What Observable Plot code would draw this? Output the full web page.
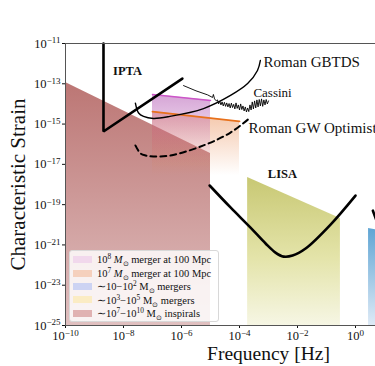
<!DOCTYPE html>
<html><head><meta charset="utf-8">
<script src="https://cdn.jsdelivr.net/npm/d3@7"></script>
<script src="https://cdn.jsdelivr.net/npm/@observablehq/plot@0.6"></script>
<style>
html,body{margin:0;padding:0;background:#fff;overflow:hidden;width:375px;height:366px}
#wrap{position:relative;width:375px;height:366px;overflow:hidden}
#wrap svg{max-width:none !important;width:480px;height:366px;display:block}
#legend{position:absolute;left:69px;top:250px;width:150px;height:72px;box-sizing:border-box;background:rgba(255,255,255,0.82);border:1px solid #d8d8d8;border-radius:3px;font-family:"Liberation Serif",serif;font-size:10.5px;padding:2px 0 0 3px;color:#111}
.row{display:flex;align-items:center;height:13.4px;white-space:nowrap}
.sw{width:19px;height:7px;margin-right:5px;flex:none}
sup,sub{font-size:0.7em;line-height:0}
</style></head><body><div id="wrap"></div>
<script>
// ---- data (log10 values) ----
const xTicks = [-10, -8, -6, -4, -2, 0];
const yTicks = [-25, -23, -21, -19, -17, -15, -13, -11];

const brownF = [-10, -5],        brownH = [-12.94, -16.46];
const pinkF = [-7, -5],          pinkH = [-13.53, -13.83];
const orangeF = [-7, -4],        orangeH = [-14.38, -14.87];
const lisaBandF = [-3.72, -0.52], lisaBandH = [-17.65, -19.69];
const ligoBandF = [0.45, 4],     ligoBandH = [-20.19, -21.0];
const bandFloor = -25;

const iptaF = [-8.69, -8.69, -5.97];
const iptaH = [-11, -15.37, -12.74];

const gbtdsF = [-7.59, -7.48, -7.31, -6.97, -6.4, -5.24, -4.31, -3.72, -3.38, -3.28];
const gbtdsH = [-13.96, -14.45, -14.62, -14.72, -14.62, -14.23, -13.58, -12.99, -12.34, -11.84];

const romanGWF = [-7.59, -7.41, -7.24, -6.97, -6.38, -5.24, -4.31, -3.62];
const romanGWH = [-16.06, -16.46, -16.56, -16.61, -16.56, -16.06, -15.42, -14.67];

const cassiniF = [-5.93, -5.5, -5.1, -4.93, -4.90, -4.86, -4.80, -4.76, -4.72, -4.68, -4.64, -4.60, -4.56, -4.52, -4.48, -4.44,
  -4.40, -4.36, -4.32, -4.28, -4.24, -4.20, -4.16, -4.12, -4.08, -4.04, -4.00, -3.96, -3.92, -3.88, -3.84, -3.80,
  -3.76, -3.72, -3.68, -3.64, -3.60, -3.56, -3.52, -3.48, -3.44, -3.40, -3.36, -3.32, -3.28, -3.24, -3.20, -3.16,
  -3.12, -3.08, -3.04, -3.00];
const cassiniH = [-13.09, -13.35, -13.55, -13.68, -13.53, -13.75, -13.85, -13.80, -14.00, -13.86, -14.05, -13.90, -14.10, -13.92, -14.12, -13.95,
  -14.15, -13.98, -14.20, -13.96, -14.18, -14.02, -14.25, -13.95, -14.22, -14.05, -14.30, -14.00, -14.28, -14.10, -14.35, -14.15,
  -14.40, -14.20, -14.38, -14.05, -14.30, -13.90, -14.25, -13.85, -14.20, -13.80, -14.15, -13.78, -14.10, -13.75, -14.12, -13.80,
  -14.05, -13.78, -14.00, -13.85];

const lisaF = [-5.03, -4.31, -3.62, -3.10, -2.76, -2.48, -2.17, -1.72, -0.86, 0];
const lisaH = [-18.05, -19.14, -20.14, -20.93, -21.38, -21.58, -21.53, -21.18, -19.99, -18.55];

const ligoF = [0.60, 0.75];
const ligoH = [-19.30, -19.90];

const labelText = ["IPTA", "LISA"];
const labelF = [-7.86, -2.52];
const labelH = [-12.39, -17.5];
const label2Text = ["Roman GBTDS", "Roman GW Optimistic"];
const label2F = [-3.17, -3.69];
const label2H = [-11.94, -15.22];
const label3Text = ["Cassini"];
const label3F = [-3.52];
const label3H = [-13.43];

const legendLabels = [
  "10<sup>8</sup> <i>M</i><sub>⊙</sub> merger at 100 Mpc",
  "10<sup>7</sup> <i>M</i><sub>⊙</sub> merger at 100 Mpc",
  "∼10−10<sup>2</sup> M<sub>⊙</sub> mergers",
  "∼10<sup>3</sup>−10<sup>5</sup> M<sub>⊙</sub> mergers",
  "∼10<sup>7</sup>−10<sup>10</sup> M<sub>⊙</sub> inspirals"
];
const legendColors = ["#f1d8ec", "#f5d0bd", "#cdd3f3", "#fbecc4", "#e0b2b2"];

// ---- build ----
const P = v => Math.pow(10, v);
const pts = (F, H, T) => F.map((f, i) => ({f: P(f), h: P(H[i]), t: T ? T[i] : null}));
const expFmt = d => "10^" + Math.round(Math.log10(d));

const svg = Plot.plot({
  width: 480, height: 366,
  marginLeft: 65, marginRight: 9, marginTop: 43, marginBottom: 41,
  style: {fontFamily: '"Liberation Serif", serif', background: "white", color: "#111", maxWidth: "none"},
  x: {type: "log", domain: [1e-10, 1e4], label: null},
  y: {type: "log", domain: [1e-25, 1e-11], label: null},
  marks: [
    Plot.areaY(pts(brownF, brownH), {x: "f", y1: P(bandFloor), y2: "h", fill: "url(#gBrown)"}),
    Plot.areaY(pts(lisaBandF, lisaBandH), {x: "f", y1: P(bandFloor), y2: "h", fill: "url(#gLisa)"}),
    Plot.areaY(pts(ligoBandF, ligoBandH), {x: "f", y1: P(bandFloor), y2: "h", fill: "url(#gBlue)"}),
    Plot.areaY(pts(orangeF, orangeH), {x: "f", y1: P(bandFloor), y2: "h", fill: "url(#gOrange)"}),
    Plot.areaY(pts(pinkF, pinkH), {x: "f", y1: P(bandFloor), y2: "h", fill: "url(#gPink)"}),
    Plot.line(pts(pinkF, pinkH), {x: "f", y: "h", stroke: "#cc55c8", strokeWidth: 1.5}),
    Plot.line(pts(orangeF, orangeH), {x: "f", y: "h", stroke: "#e8711c", strokeWidth: 1.8}),
    Plot.line(pts(iptaF, iptaH), {x: "f", y: "h", stroke: "#000", strokeWidth: 2.6, strokeLinejoin: "miter"}),
    Plot.line(pts(gbtdsF, gbtdsH), {x: "f", y: "h", stroke: "#000", strokeWidth: 1.4, curve: "catmull-rom"}),
    Plot.line(pts(cassiniF, cassiniH), {x: "f", y: "h", stroke: "#000", strokeWidth: 0.9}),
    Plot.line(pts(romanGWF, romanGWH), {x: "f", y: "h", stroke: "#000", strokeWidth: 2, strokeDasharray: "6,4", curve: "catmull-rom"}),
    Plot.line(pts(lisaF, lisaH), {x: "f", y: "h", stroke: "#000", strokeWidth: 2.6, curve: "catmull-rom"}),
    Plot.line(pts(ligoF, ligoH), {x: "f", y: "h", stroke: "#000", strokeWidth: 2.6}),
    Plot.text(pts(labelF, labelH, labelText), {x: "f", y: "h", text: "t", textAnchor: "middle", fontSize: 12.5, fontWeight: "bold", fill: "#111"}),
    Plot.text(pts(label2F, label2H, label2Text), {x: "f", y: "h", text: "t", textAnchor: "start", fontSize: 15, fill: "#111"}),
    Plot.text(pts(label3F, label3H, label3Text), {x: "f", y: "h", text: "t", textAnchor: "start", fontSize: 13, fill: "#111"}),
    Plot.axisX(xTicks.map(P), {tickSize: 3, tickPadding: 3, tickFormat: expFmt, fontSize: 12.5, label: null}),
    Plot.axisY(yTicks.map(P), {tickSize: 3, tickPadding: 2, tickFormat: expFmt, fontSize: 12.5, label: null}),
    Plot.frame({stroke: "#555"}),
    Plot.text(["Characteristic Strain"], {frameAnchor: "left", textAnchor: "middle", lineAnchor: "middle", text: d => d, rotate: -90, dx: -47, fontSize: 21, fill: "#111"}),
    Plot.text(["Frequency [Hz]"], {frameAnchor: "bottom", textAnchor: "middle", lineAnchor: "middle", text: d => d, dy: 28, fontSize: 19.5, fill: "#111"})
  ]
});

// gradients
const ns = "http://www.w3.org/2000/svg";
const defs = document.createElementNS(ns, "defs");
function grad(id, stops) {
  const g = document.createElementNS(ns, "linearGradient");
  g.setAttribute("id", id);
  g.setAttribute("x1", 0); g.setAttribute("y1", 0); g.setAttribute("x2", 0); g.setAttribute("y2", 1);
  for (const [o, c, a] of stops) {
    const s = document.createElementNS(ns, "stop");
    s.setAttribute("offset", o); s.setAttribute("stop-color", c); s.setAttribute("stop-opacity", a);
    g.appendChild(s);
  }
  defs.appendChild(g);
}
grad("gBrown", [[0, "rgb(188,118,116)", 1], [1, "rgb(224,192,192)", 1]]);
grad("gLisa", [[0, "rgb(200,200,115)", 1], [0.55, "rgb(228,228,170)", 1], [1, "rgb(246,246,228)", 1]]);
grad("gBlue", [[0, "rgb(95,165,212)", 1], [1, "rgb(222,234,246)", 1]]);
grad("gOrange", [[0, "rgb(230,125,60)", 0.45], [0.3, "rgb(230,125,60)", 0]]);
grad("gPink", [[0, "rgb(180,90,180)", 0.55], [0.3, "rgb(180,90,180)", 0]]);
svg.insertBefore(defs, svg.firstChild);
svg.style.maxWidth = "none";
svg.setAttribute("width", 480);

// superscript exponents in tick labels
svg.querySelectorAll("text").forEach(t => {
  const m = /^10\^(-?\d+)$/.exec(t.textContent);
  if (m) {
    t.textContent = "10";
    const ts = document.createElementNS(ns, "tspan");
    ts.setAttribute("dy", "-0.45em");
    ts.setAttribute("font-size", "0.72em");
    ts.textContent = m[1].replace("-", "−");
    t.appendChild(ts);
  }
});

const wrap = document.getElementById("wrap");
wrap.appendChild(svg);

// legend
const lg = document.createElement("div");
lg.id = "legend";
legendLabels.forEach((lab, i) => {
  const r = document.createElement("div");
  r.className = "row";
  r.innerHTML = `<span class="sw" style="background:${legendColors[i]}"></span><span>${lab}</span>`;
  lg.appendChild(r);
});
wrap.appendChild(lg);
</script></body></html>
